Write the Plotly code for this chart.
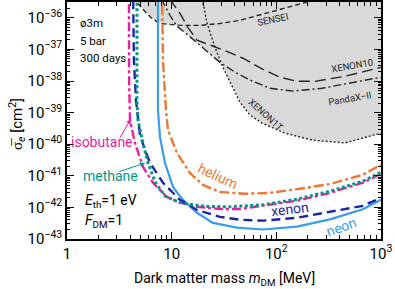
import numpy as np
import plotly.graph_objects as go

# ---------------- data (mass in MeV, log10 of cross section in cm^2) ----------------
iso_m = [3.9, 3.92, 4.0, 4.46, 5.32, 6.63, 9.02, 12.0, 17.45, 28.9, 44.9, 74.5, 157, 325, 671, 998]
iso_logs = [-35.0, -38.0, -39.24, -39.96, -40.72, -41.22, -41.67, -41.85, -41.98, -42.05, -42.05,
            -41.95, -41.79, -41.54, -41.22, -40.94]

methane_m = [4.66, 4.66, 4.77, 4.98, 5.32, 5.94, 6.93, 8.63, 12.0, 20.8, 36.0, 74.5, 157, 325, 671, 998]
methane_logs = [-35.0, -38.61, -39.24, -39.55, -39.96, -40.59, -41.19, -41.64, -41.85, -41.97, -41.98,
                -41.92, -41.74, -41.49, -41.17, -40.89]

xenon_m = [4.27, 4.36, 4.56, 4.77, 4.98, 5.56, 6.21, 8.26, 12.0, 17.45, 28.9, 44.9, 74.5, 157, 325, 671, 998]
xenon_logs = [-35.0, -37.35, -38.61, -39.24, -39.71, -40.18, -40.59, -41.22, -41.76, -42.08, -42.30,
              -42.39, -42.42, -42.33, -42.14, -41.95, -41.70]

neon_m = [7.40, 7.40, 7.73, 8.63, 10.29, 12.82, 17.45, 24.8, 42.1, 74.5, 157, 325, 671, 998]
neon_logs = [-35.0, -38.92, -39.77, -40.59, -41.35, -41.76, -42.17, -42.49, -42.64, -42.70, -42.61,
             -42.38, -42.06, -41.76]

helium_m = [8.08, 8.26, 8.82, 9.22, 11.24, 14.95, 19.9, 28.9, 50.1, 86.9, 168, 325, 671, 998]
helium_logs = [-35.0, -37.35, -38.92, -39.55, -40.28, -40.91, -41.29, -41.51, -41.57, -41.54, -41.41,
               -41.26, -40.97, -40.65]

sensei_m = [4.5, 4.66, 5.56, 6.48, 7.73, 12.0, 18.6, 28.9, 44.9, 72.8, 129, 192, 230]
sensei_logs = [-35.3, -35.51, -35.80, -36.02, -36.18, -36.24, -36.24, -36.18, -36.08, -35.89, -35.67,
               -35.51, -35.4]

xenon10_m = [9.6, 10.07, 12.0, 14.3, 17.45, 24.8, 33.7, 48.0, 74.5, 108, 157, 234, 452, 998]
xenon10_logs = [-35.4, -35.51, -35.86, -36.30, -36.71, -36.90, -37.06, -37.28, -37.63, -37.88, -38.01,
                -38.01, -37.85, -37.57]

pandax_m = [8.0, 8.26, 9.63, 11.24, 14.0, 18.6, 23.2, 28.9, 40.3, 56.0, 86.9, 144, 273, 505, 998]
pandax_logs = [-35.4, -35.51, -35.92, -36.27, -36.52, -36.87, -37.15, -37.41, -37.72, -37.97, -38.23,
               -38.32, -38.23, -38.07, -37.88]

xenon1t_m = [19.7, 19.9, 21.7, 25.9, 30.9, 37.7, 44.9, 56.0, 72.8, 121, 219, 452, 934, 998]
xenon1t_logs = [-35.4, -35.51, -36.15, -36.93, -37.57, -38.14, -38.67, -39.08, -39.33, -39.65, -39.87,
                -39.96, -39.68, -39.65]

x_tickvals = [1, 10, 100, 1000]
x_ticktext = ["1", "10", "10<sup>2</sup>", "10<sup>3</sup>"]
y_exponents = [-43, -42, -41, -40, -39, -38, -37, -36]
y_ticktext = ["10<sup>\u2212%d</sup>" % (-e) for e in y_exponents]

# ---------------- styling ----------------
FONT = "Roboto"
C_ISO = "#ec1c9c"
C_METH = "#009988"
C_XE = "#1a26a8"
C_NE = "#3a9cee"
C_HE = "#ee7733"
C_EXP = "#262626"
GRAY = "#d9d9d9"


def sig(logs):
    return [10.0 ** v for v in logs]


fig = go.Figure()

# excluded region: above the lowest of the existing limits
exps = [(sensei_m, sensei_logs), (xenon10_m, xenon10_logs), (pandax_m, pandax_logs),
        (xenon1t_m, xenon1t_logs)]
grid = np.linspace(np.log10(sensei_m[1]), 3.0, 600)
env = np.full_like(grid, -35.3)
for mm, ll in exps:
    lm = np.log10(mm)
    vals = np.interp(grid, lm, ll, left=np.inf, right=np.inf)
    env = np.minimum(env, vals)
poly_x = np.concatenate([10 ** grid, [1000.0, 10 ** grid[0]]])
poly_y = np.concatenate([10 ** env, [10 ** -35.3, 10 ** -35.3]])
fig.add_trace(go.Scatter(x=poly_x, y=poly_y, mode="lines", fill="toself", fillcolor=GRAY,
                         line=dict(width=0), hoverinfo="skip", showlegend=False))

# existing limits
fig.add_trace(go.Scatter(x=sensei_m, y=sig(sensei_logs), mode="lines", showlegend=False,
                         line=dict(color=C_EXP, width=1.4, dash="5px,3px")))
fig.add_trace(go.Scatter(x=xenon10_m, y=sig(xenon10_logs), mode="lines", showlegend=False,
                         line=dict(color=C_EXP, width=1.4, dash="11px,5px")))
fig.add_trace(go.Scatter(x=pandax_m, y=sig(pandax_logs), mode="lines", showlegend=False,
                         line=dict(color=C_EXP, width=1.4, dash="8px,3px,2px,3px")))
fig.add_trace(go.Scatter(x=xenon1t_m, y=sig(xenon1t_logs), mode="lines", showlegend=False,
                         line=dict(color=C_EXP, width=1.4, dash="2px,2px")))

# projections
fig.add_trace(go.Scatter(x=helium_m, y=sig(helium_logs), mode="lines", showlegend=False,
                         line=dict(color=C_HE, width=2.4, dash="10px,3px,3px,3px")))
fig.add_trace(go.Scatter(x=neon_m, y=sig(neon_logs), mode="lines", showlegend=False,
                         line=dict(color=C_NE, width=2.2)))
fig.add_trace(go.Scatter(x=iso_m, y=sig(iso_logs), mode="lines", showlegend=False,
                         line=dict(color=C_ISO, width=2.4, dash="9px,3px,3px,3px")))
fig.add_trace(go.Scatter(x=xenon_m, y=sig(xenon_logs), mode="lines", showlegend=False,
                         line=dict(color=C_XE, width=2.4, dash="9px,5px")))
fig.add_trace(go.Scatter(x=methane_m, y=sig(methane_logs), mode="lines", showlegend=False,
                         line=dict(color=C_METH, width=3, dash="3px,2.5px")))

minor_x = [k * 10 ** n for n in range(0, 3) for k in range(2, 10)]
minor_y = [k * 10.0 ** n for n in range(-43, -35) for k in range(2, 10)]

axis_common = dict(type="log", showgrid=False, zeroline=False, showline=True, linecolor="black",
                   linewidth=1.5, mirror="ticks", ticks="inside", ticklen=7, tickwidth=1,
                   tickcolor="black", automargin=False,
                   tickfont=dict(family=FONT, size=15, color="black"))

fig.update_xaxes(range=[0, 3], tickmode="array", tickvals=x_tickvals, ticktext=x_ticktext,
                 minor=dict(tickmode="array", tickvals=minor_x, ticks="inside", ticklen=4,
                            tickcolor="black", showgrid=False),
                 **axis_common)
fig.update_yaxes(range=[-43, -35.5], tickmode="array", tickvals=[10.0 ** e for e in y_exponents],
                 ticktext=y_ticktext,
                 minor=dict(tickmode="array", tickvals=minor_y, ticks="inside", ticklen=3,
                            tickcolor="black", showgrid=False),
                 **axis_common)


def lbl(text, px, py, color="black", size=14, angle=0, xanchor="center", family=FONT):
    # positions given in pixels of the 395x289 canvas, converted to paper coordinates
    return dict(text=text, x=(px - 67) / 314, y=(239 - py) / 237, xref="paper", yref="paper",
                showarrow=False, xanchor=xanchor, yanchor="middle", textangle=angle,
                font=dict(family=family, size=size, color=color))


annotations = [
    lbl("ø3m", 78, 23, size=11.5, xanchor="left"),
    lbl("5 bar", 78, 41, size=11.5, xanchor="left"),
    lbl("300 days", 78, 58, size=11.5, xanchor="left"),
    lbl("isobutane", 102, 142, color=C_ISO),
    lbl("methane", 110, 176, color=C_METH),
    lbl("<i>E</i><sub>th</sub>=1 eV", 83, 201, xanchor="left"),
    lbl("<i>F</i><sub>DM</sub>=1", 83, 221, xanchor="left"),
    lbl("helium", 218, 176, color=C_HE, angle=25),
    lbl("xenon", 290, 209, color=C_XE, angle=-7),
    lbl("neon", 341, 227, color=C_NE, angle=-20),
    lbl("SENSEI", 272, 19, color=C_EXP, size=9.5, angle=-12),
    lbl("XENON10", 352, 65, color=C_EXP, size=9.5, angle=-10),
    lbl("PandaX\u2212II", 349, 98, color=C_EXP, size=9.5, angle=-10),
    lbl("XENON1T", 266, 114, color=C_EXP, size=9.5, angle=42),
    lbl("Dark matter mass <i>m</i><sub>DM</sub> [MeV]", 224, 279, size=14),
    lbl("\u03c3\u0305<sub><i>e</i></sub> [cm<sup>2</sup>]", 17, 124, size=15, angle=-90),
]

# arrows
annotations.append(dict(x=(131 - 67) / 314, y=(239 - 119) / 237, xref="paper", yref="paper",
                        ax=-12, ay=20, axref="pixel", ayref="pixel", text="", showarrow=True,
                        arrowhead=2, arrowsize=1, arrowwidth=1, arrowcolor=C_ISO))
annotations.append(dict(x=(145 - 67) / 314, y=(239 - 163) / 237, xref="paper", yref="paper",
                        ax=-27, ay=9, axref="pixel", ayref="pixel", text="", showarrow=True,
                        arrowhead=2, arrowsize=1, arrowwidth=1, arrowcolor=C_METH))

fig.update_layout(width=395, height=289, margin=dict(l=67, r=14, t=2, b=50),
                  paper_bgcolor="white", plot_bgcolor="white", showlegend=False,
                  font=dict(family=FONT, color="black"), annotations=annotations)

fig.write_html("out.html", config={"displayModeBar": False},
               post_script="document.body.style.margin='0px';")
